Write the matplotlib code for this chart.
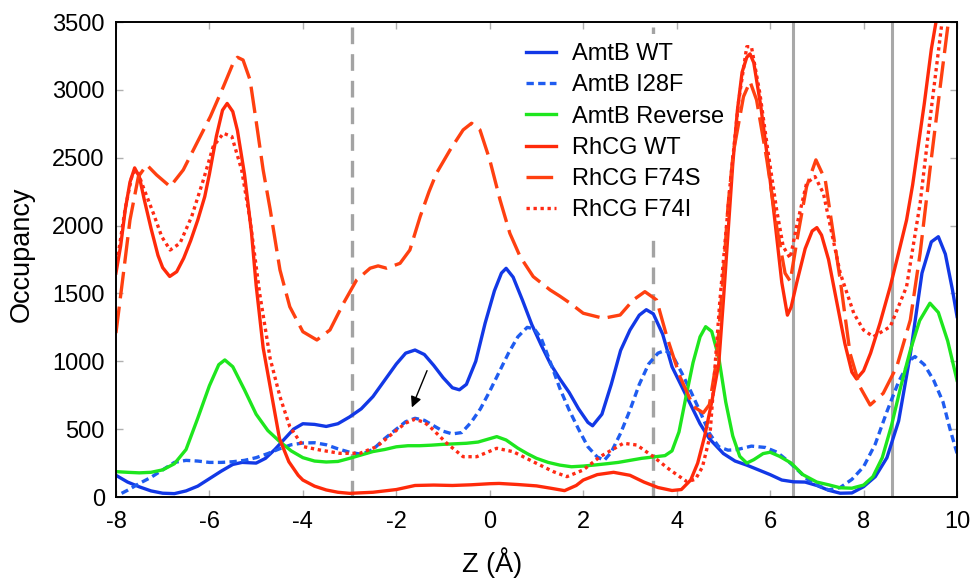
import numpy as np
import matplotlib.pyplot as plt

plt.rcParams['font.family'] = ['Liberation Sans', 'DejaVu Sans']
plt.rcParams['axes.unicode_minus'] = False

# AmtB WT
z_amtb_wt = [-8, -7.75, -7.5, -7.25, -7.0, -6.75, -6.5, -6.25, -6.0, -5.75, -5.5, -5.3, -5.0, -4.8,
             -4.6, -4.4, -4.2, -4.0, -3.75, -3.5, -3.25, -3.0, -2.75, -2.5, -2.25, -2.0, -1.8, -1.6,
             -1.4, -1.2, -1.0, -0.8, -0.65, -0.5, -0.3, -0.1, 0.1, 0.25, 0.35, 0.5, 0.7, 0.9, 1.1,
             1.3, 1.5, 1.7, 1.9, 2.1, 2.2, 2.4, 2.6, 2.8, 3.0, 3.2, 3.35, 3.5, 3.7, 3.9, 4.1, 4.3,
             4.5, 4.7, 5.0, 5.25, 5.5, 5.75, 6.0, 6.25, 6.5, 6.75, 7.0, 7.25, 7.5, 7.75, 8.0, 8.25,
             8.5, 8.75, 9.0, 9.25, 9.45, 9.6, 9.75, 9.9, 10.0]
occ_amtb_wt = [160, 110, 75, 45, 28, 25, 45, 80, 135, 190, 240, 255, 250, 285,
               350, 425, 500, 540, 535, 520, 540, 590, 650, 740, 860, 980, 1060, 1083,
               1050, 970, 880, 805, 790, 830, 1000, 1280, 1520, 1650, 1685, 1620, 1450, 1270, 1120,
               980, 870, 770, 650, 550, 525, 610, 830, 1080, 1230, 1340, 1380, 1350, 1200, 960, 820, 680,
               540, 430, 320, 265, 235, 200, 165, 125, 112, 110, 85, 50, 28, 30, 76, 150,
               290, 560, 1050, 1650, 1880, 1918, 1790, 1530, 1330]

# AmtB I28F
z_amtb_i28f = [-7.88, -7.75, -7.5, -7.25, -7.0, -6.75, -6.5, -6.25, -6.0, -5.75, -5.5, -5.25, -5.0,
               -4.75, -4.5, -4.25, -4.0, -3.75, -3.5, -3.25, -3.0, -2.75, -2.5, -2.25, -2.0, -1.8,
               -1.6, -1.4, -1.2, -1.0, -0.8, -0.6, -0.4, -0.2, 0.0, 0.2, 0.4, 0.6, 0.8, 0.95, 1.1,
               1.3, 1.5, 1.7, 1.9, 2.1, 2.3, 2.45, 2.6, 2.8, 3.0, 3.2, 3.4, 3.6, 3.75, 3.9, 4.1, 4.3,
               4.5, 4.7, 4.9, 5.1, 5.3, 5.6, 5.9, 6.15, 6.4, 6.6, 6.8, 7.0, 7.25, 7.5, 7.75, 8.0,
               8.25, 8.5, 8.75, 9.0, 9.1, 9.3, 9.5, 9.7, 9.85, 10.0]
occ_amtb_i28f = [27, 50, 100, 145, 200, 255, 270, 265, 255, 255, 260, 270, 290,
                 320, 355, 385, 398, 400, 385, 355, 330, 315, 350, 430, 500, 555,
                 580, 565, 525, 485, 465, 475, 550, 650, 780, 920, 1060, 1180, 1250, 1240, 1170,
                 990, 800, 640, 500, 370, 295, 270, 330, 470, 640, 830, 980, 1060, 1080, 1050, 920, 780,
                 630, 470, 370, 345, 350, 375, 365, 330, 260, 195, 130, 88, 52, 70, 130, 223,
                 390, 630, 850, 1010, 1035, 975, 860, 700, 500, 322]

# AmtB Reverse
z_amtb_rev = [-8, -7.75, -7.5, -7.25, -7.0, -6.75, -6.5, -6.25, -6.0, -5.8, -5.67, -5.5, -5.25, -5.0,
              -4.75, -4.5, -4.25, -4.0, -3.75, -3.5, -3.25, -3.0, -2.75, -2.5, -2.25, -2.0, -1.75,
              -1.5, -1.25, -1.0, -0.75, -0.5, -0.25, 0.0, 0.15, 0.35, 0.6, 0.8, 1.0, 1.25, 1.5, 1.75,
              2.0, 2.25, 2.5, 2.75, 3.0, 3.25, 3.5, 3.75, 3.9, 4.05, 4.2, 4.35, 4.5, 4.62, 4.75, 4.9,
              5.05, 5.2, 5.35, 5.5, 5.65, 5.85, 6.0, 6.2, 6.45, 6.7, 7.0, 7.25, 7.5, 7.75, 8.0, 8.2,
              8.4, 8.6, 8.8, 9.0, 9.2, 9.42, 9.6, 9.8, 10.0]
occ_amtb_rev = [187, 182, 178, 182, 200, 245, 350, 580, 820, 975, 1010, 960, 790, 610,
                490, 410, 340, 290, 265, 258, 262, 285, 310, 335, 350, 370, 378,
                378, 382, 388, 392, 396, 405, 430, 445, 420, 360, 320, 285, 255, 235, 223,
                228, 236, 245, 255, 270, 285, 295, 305, 340, 480, 740, 990, 1180, 1255, 1220, 1030,
                700, 450, 300, 250, 275, 320, 330, 300, 250, 165, 110, 90, 68, 65, 88, 150,
                290, 530, 820, 1080, 1300, 1428, 1360, 1150, 860]

# RhCG WT
z_rhcg_wt = [-8, -7.9, -7.8, -7.7, -7.6, -7.5, -7.4, -7.25, -7.1, -7.0, -6.85, -6.7, -6.55, -6.4,
             -6.25, -6.1, -6.0, -5.85, -5.72, -5.62, -5.5, -5.4, -5.25, -5.1, -5.0, -4.85, -4.7,
             -4.5, -4.3, -4.1, -4.0, -3.75, -3.5, -3.25, -3.0, -2.5, -2.0, -1.6, -1.2, -0.8, -0.4,
             0.0, 0.2, 0.6, 1.0, 1.3, 1.6, 1.85, 2.0, 2.3, 2.65, 3.0, 3.3, 3.6, 3.9, 4.1, 4.3, 4.45,
             4.6, 4.75, 4.9, 5.0, 5.1, 5.2, 5.3, 5.4, 5.5, 5.57, 5.65, 5.8, 5.95, 6.1, 6.25, 6.37,
             6.45, 6.57, 6.75, 6.9, 7.0, 7.1, 7.25, 7.43, 7.6, 7.75, 7.85, 8.0, 8.15, 8.35, 8.57,
             8.75, 8.92, 9.05, 9.15, 9.3, 9.45, 9.6, 9.7]
occ_rhcg_wt = [1650, 1850, 2120, 2320, 2425, 2360, 2200, 1980, 1780, 1690, 1625, 1660, 1760, 1890,
               2040, 2213, 2380, 2660, 2850, 2900, 2840, 2700, 2380, 1950, 1560, 1100, 813,
               430, 260, 160, 125, 80, 52, 35, 27, 35, 55, 85, 88, 85, 90,
               98, 100, 92, 82, 65, 47, 85, 125, 165, 182, 160, 110, 70, 48, 55, 125, 250,
               450, 700, 980, 1450, 1950, 2450, 2850, 3130, 3240, 3265, 3200, 2880, 2480, 2041, 1580, 1340,
               1400, 1580, 1830, 1960, 1985, 1930, 1750, 1430, 1130, 920, 870, 930, 1060, 1280, 1550,
               1800, 2041, 2300, 2540, 2900, 3300, 3600, 3850]

# RhCG F74S
z_rhcg_f74s = [-8, -7.84, -7.7, -7.52, -7.34, -7.13, -6.84, -6.56, -6.27, -5.98, -5.7, -5.5, -5.4,
               -5.28, -5.13, -5.0, -4.85, -4.7, -4.49, -4.28, -4.0, -3.7, -3.42, -3.13, -2.85, -2.56,
               -2.39, -2.21, -1.92, -1.71, -1.49, -1.3, -1.14, -0.85, -0.57, -0.39, -0.21, 0.0, 0.22,
               0.43, 0.65, 0.93, 1.29, 1.5, 1.72, 2.0, 2.43, 2.79, 3.07, 3.32, 3.57, 3.79, 4.07, 4.36,
               4.57, 4.7, 4.85, 5.0, 5.1, 5.21, 5.43, 5.57, 5.71, 5.93, 6.14, 6.32, 6.43, 6.6, 6.78,
               6.98, 7.18, 7.35, 7.5, 7.71, 7.92, 8.14, 8.42, 8.71, 9.0, 9.21, 9.42, 9.64, 9.82, 9.9]
occ_rhcg_f74s = [1208, 1649, 2041, 2361, 2447, 2373, 2287, 2410, 2607, 2803, 3024, 3190, 3240,
                 3220, 3073, 2770, 2410, 2120, 1673, 1402, 1218, 1157, 1231, 1428, 1599, 1686,
                 1703, 1686, 1722, 1820, 2066, 2250, 2386, 2557, 2705, 2754, 2705, 2484, 2189,
                 1943, 1771, 1624, 1526, 1480, 1428, 1354, 1317, 1341, 1452, 1513, 1452, 1181, 887, 666,
                 620, 680, 1000, 1650, 2150, 2533, 2950, 3061, 2926, 2484, 1992, 1649, 1590, 1943, 2287,
                 2484, 2336, 1943, 1600, 1059, 813, 678, 764, 960, 1304, 1796, 2410, 3024, 3515, 3750]

# RhCG F74I
z_rhcg_f74i = [-8, -7.8, -7.65, -7.55, -7.42, -7.2, -7.02, -6.84, -6.63, -6.38, -6.13, -5.92, -5.7,
               -5.52, -5.31, -5.13, -4.92, -4.7, -4.49, -4.28, -3.99, -3.63, -3.21, -2.78, -2.42,
               -1.99, -1.8, -1.6, -1.4, -1.28, -0.92, -0.57, -0.28, 0.15, 0.5, 0.93, 1.36, 1.65, 2.0,
               2.36, 2.86, 3.15, 3.5, 3.86, 4.22, 4.4, 4.55, 4.71, 4.92, 5.14, 5.32, 5.5, 5.6, 5.78,
               5.96, 6.14, 6.28, 6.43, 6.57, 6.78, 6.96, 7.14, 7.32, 7.5, 7.79, 8.0, 8.21, 8.57, 8.92,
               9.21, 9.42, 9.64, 9.75]
occ_rhcg_f74i = [1680, 2130, 2380, 2410, 2287, 2091, 1918, 1820, 1870, 2066, 2336, 2582, 2680,
                 2656, 2410, 2041, 1490, 1020, 739, 518, 371, 346, 322, 322, 371,
                 494, 545, 573, 550, 518, 396, 297, 297, 359, 334, 260, 187, 150, 199,
                 297, 396, 383, 297, 199, 113, 130, 220, 444, 1428, 2287, 2902, 3318, 3318, 2975,
                 2533, 2115, 1845, 1760, 2000, 2312, 2361, 2238, 1943, 1650, 1354, 1230, 1181, 1255, 1550,
                 2164, 2779, 3392, 3700]

dashed_marks = [-2.95, 3.5]
solid_marks = [6.5, 8.6]

fig = plt.figure(figsize=(9.72, 5.79), dpi=100)
ax = fig.add_axes([0.1193, 0.1416, 0.8653, 0.8204])

for xm in dashed_marks:
    ax.axvline(xm, color='#a3a3a3', lw=2.4, dashes=(5, 3), zorder=1)
for xm in solid_marks:
    ax.axvline(xm, color='#a8a8a8', lw=2.2, zorder=1)

lw = 2.4
ax.plot(z_amtb_wt, occ_amtb_wt, color='#1238e6', lw=lw, label='AmtB WT', zorder=3)
ax.plot(z_amtb_i28f, occ_amtb_i28f, color='#1f5cf0', lw=lw, dashes=(2.2, 1.3), label='AmtB I28F', zorder=3)
ax.plot(z_amtb_rev, occ_amtb_rev, color='#1ee61e', lw=lw, label='AmtB Reverse', zorder=3)
ax.plot(z_rhcg_wt, occ_rhcg_wt, color='#ff2a0a', lw=lw, label='RhCG WT', zorder=3)
ax.plot(z_rhcg_f74s, occ_rhcg_f74s, color='#ff4010', lw=lw, dashes=(8, 2.5), label='RhCG F74S', zorder=3)
ax.plot(z_rhcg_f74i, occ_rhcg_f74i, color='#ff2a14', lw=lw, dashes=(1, 1.1), label='RhCG F74I', zorder=3)

ax.annotate('', xy=(-1.69, 641), xytext=(-1.32, 950),
            arrowprops=dict(arrowstyle='-|>', color='black', lw=1, mutation_scale=16), zorder=4)

ax.set_xlim(-8, 10)
ax.set_ylim(0, 3500)
ax.set_xticks(np.arange(-8, 11, 2))
ax.set_yticks(np.arange(0, 3501, 500))
ax.tick_params(direction='in', length=5, width=1, color='#b0b0b0', labelsize=17,
               top=True, right=True)
ax.tick_params(axis='x', pad=10)
ax.tick_params(axis='y', pad=8)
for s in ax.spines.values():
    s.set_linewidth(1.4)
    s.set_zorder(5)

ax.set_xlabel('Z (Å)', fontsize=19.5)
ax.set_ylabel('Occupancy', fontsize=19.5)
ax.xaxis.set_label_coords(0.447, -0.105)
ax.yaxis.set_label_coords(-0.096, 0.512)

# white legend box hides the grey marker lines but sits under the curves
leg = ax.legend(loc='upper left', bbox_to_anchor=(0.462, 1.0), fontsize=17,
                frameon=True, fancybox=False, framealpha=1, facecolor='white',
                edgecolor='none', handlelength=1.27, handletextpad=0.68, labelspacing=0.39,
                borderpad=0.4)
leg.set_zorder(2)

fig.savefig('out.png', dpi=100)
